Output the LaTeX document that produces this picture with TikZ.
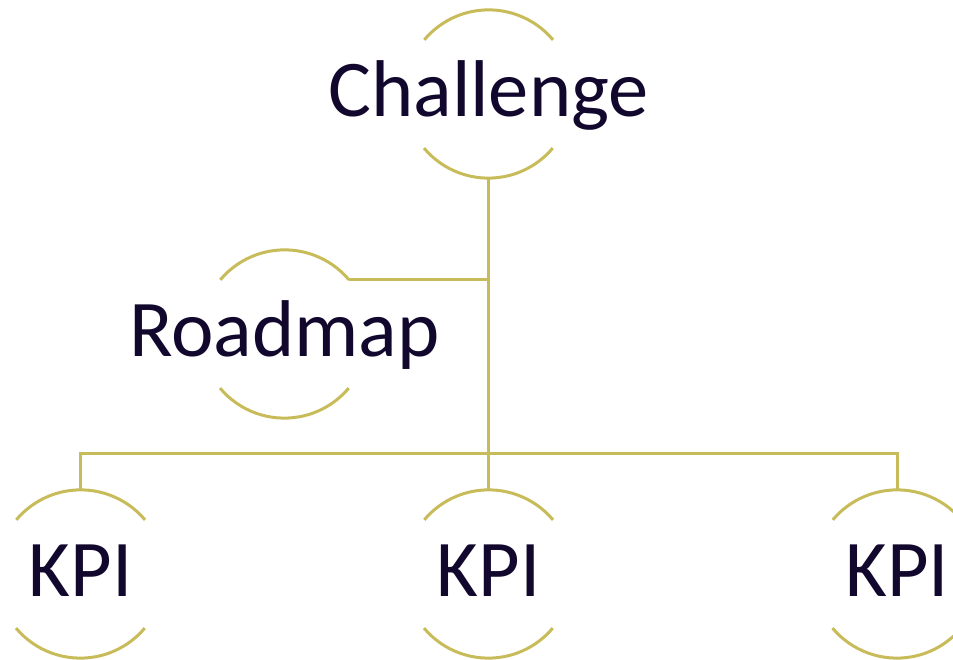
\documentclass[tikz,border=0pt]{standalone}
\usepackage{fontspec}
\setmainfont{Carlito}
\usetikzlibrary{calc}
\definecolor{olive}{HTML}{C8BC5A}
\definecolor{ink}{HTML}{12082E}
\begin{document}
\begin{tikzpicture}[x=1pt,y=1pt,
  ring/.style={circle,draw=none,inner sep=0pt,minimum size=168pt},
  caption/.style={anchor=base,inner sep=0pt,text=ink,font=\fontsize{80.5}{96}\selectfont},
  rim/.style={draw=olive,line width=3pt},
  link/.style={draw=olive,line width=3pt}]
  \useasboundingbox (0,0) rectangle (953,660);
  \clip (0,0) rectangle (953,660);

  % circle frames (only the upper and lower arcs are drawn)
  \node[ring] (ch) at (488.5,566) {};
  \node[ring] (rm) at (284.5,326) {};
  \node[ring] (k1) at (80.5,86) {};
  \node[ring] (k2) at (488.5,86) {};
  \node[ring] (k3) at (897,86) {};

  \foreach \n in {ch,rm,k1,k2,k3}{
    \draw[rim] (\n.40) arc[start angle=40,end angle=140,radius=84pt];
    \draw[rim] (\n.220) arc[start angle=220,end angle=320,radius=84pt];
  }

  % labels
  \node[caption] (chT) at ([yshift=-23pt]ch.center) {Challenge};
  \node[caption] (rmT) at ([yshift=-23pt]rm.center) {Roadmap};
  \node[caption] (k1T) at ([yshift=-23pt]k1.center) {KPI};
  \node[caption] (k2T) at ([yshift=-23pt]k2.center) {KPI};
  \node[caption] (k3T) at ([yshift=-23pt]k3.center) {KPI};

  % connectors
  \coordinate (bar) at (488.5,206);
  \draw[link] (ch.south) -- (k2.north);
  \draw[link] (rm.40) -- (rm.40 -| ch.south);
  \draw[link] (k1.north) |- (bar) -| (k3.north);
\end{tikzpicture}
\end{document}
